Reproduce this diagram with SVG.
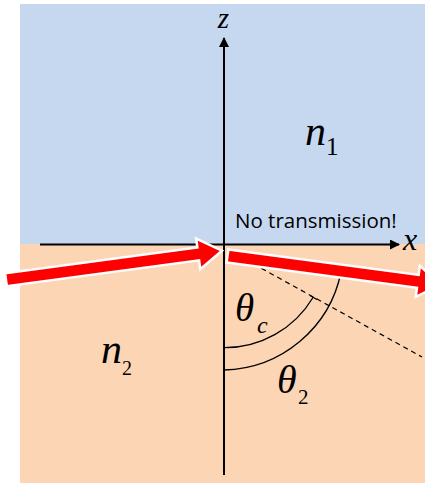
<svg xmlns="http://www.w3.org/2000/svg" width="425" height="483" viewBox="0 0 425 483">
<defs>
<style>
.axis{stroke:#000;stroke-width:2;fill:none}
.arc{stroke:#000;stroke-width:1.3;fill:none}
.beam{fill:#FF0000;stroke:#FFFFFF;stroke-width:2.5;stroke-linejoin:miter}
.math{font-family:"Liberation Serif","Times New Roman",serif;font-style:italic;fill:#000}
.sub{font-family:"Liberation Serif","Times New Roman",serif;fill:#000}
.note{font-family:"Open Sans",sans-serif;font-size:20.5px;fill:#000}
</style>
<marker id="ah" viewBox="0 0 10 10" refX="9" refY="5" markerWidth="5" markerHeight="5" orient="auto" markerUnits="strokeWidth">
<path d="M0,0 L10,5 L0,10 z" fill="#000"/>
</marker>
</defs>
<rect width="425" height="483" fill="#FFFFFF"/>
<g id="medium1"><rect x="20" y="4" width="405" height="240" fill="#C6D8F0"/></g>
<g id="medium2"><rect x="20" y="244" width="405" height="239" fill="#FCD5B5"/></g>
<g id="connectors">
<line class="axis" x1="224" y1="475" x2="224" y2="38" marker-end="url(#ah)"/>
<line class="axis" x1="40" y1="244.5" x2="399" y2="244.5" marker-end="url(#ah)"/>
<line x1="230" y1="251" x2="422" y2="357" stroke="#000" stroke-width="1.2" stroke-dasharray="5,4"/>
<path class="arc" d="M224,347.7 A103,103 0 0,0 313,297.5"/>
<line x1="310" y1="295.5" x2="317" y2="299.5" stroke="#000" stroke-width="1.3"/>
<path class="arc" d="M224,370 A122,122 0 0,0 341,272"/>
</g>
<g id="incident" transform="translate(222,250.7) rotate(-7.65)">
<polygon class="beam" points="0,0 -24,15.5 -24,6.5 -218,6.5 -218,-6.5 -24,-6.5 -24,-15.5"/>
</g>
<g id="reflected" transform="translate(227.5,256) rotate(7.6)">
<polygon class="beam" points="0,-6.5 192,-6.5 192,-15.5 216,0 192,15.5 192,6.5 0,6.5"/>
</g>
<g id="labels">
<text class="math" x="223.5" y="28" font-size="29" text-anchor="middle">z</text>
<text class="math" x="403" y="250" font-size="32">x</text>
<text class="note" x="235" y="227.5">No transmission!</text>
<text class="math" x="305" y="145" font-size="42">n</text>
<text class="sub" x="326" y="155" font-size="25">1</text>
<text class="math" x="101" y="363" font-size="42">n</text>
<text class="sub" x="122" y="375" font-size="20">2</text>
<text class="math" x="235" y="321" font-size="39">θ</text>
<text class="math" x="257" y="333" font-size="24">c</text>
<text class="math" x="277" y="392.5" font-size="40">θ</text>
<text class="sub" x="298" y="404" font-size="21">2</text>
</g>
</svg>
